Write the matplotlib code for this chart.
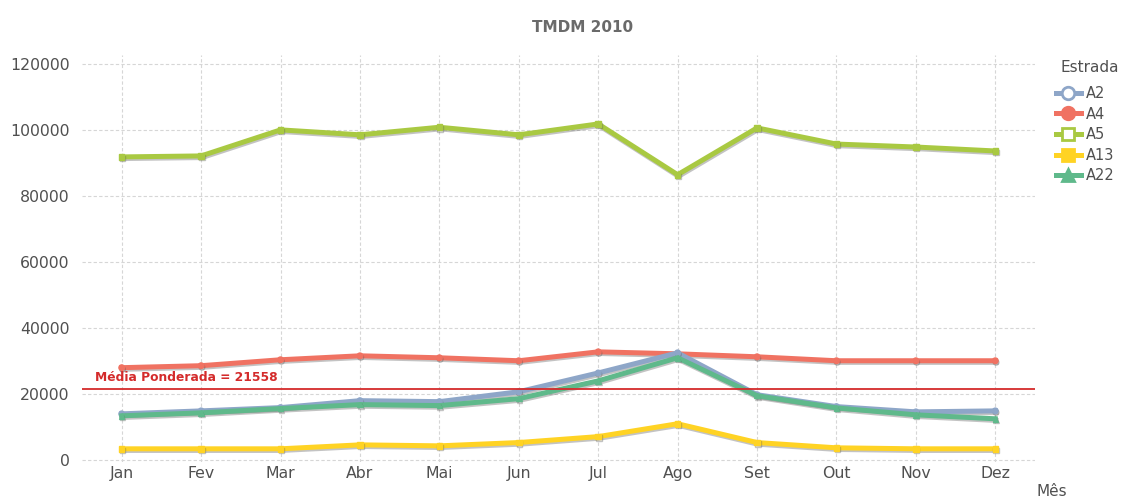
import matplotlib
matplotlib.use("Agg")
import matplotlib.pyplot as plt
import matplotlib.patheffects as pe
from matplotlib.lines import Line2D

months = ["Jan", "Fev", "Mar", "Abr", "Mai", "Jun", "Jul", "Ago", "Set", "Out", "Nov", "Dez"]
a2 = [13900, 14800, 15800, 17900, 17600, 20600, 26300, 32400, 19700, 16100, 14500, 14800]
a4 = [27900, 28500, 30300, 31500, 30900, 30000, 32700, 32100, 31200, 30000, 30000, 30000]
a5 = [91800, 92100, 100000, 98500, 100800, 98500, 101800, 86400, 100600, 95700, 94800, 93600]
a13 = [3300, 3300, 3300, 4500, 4200, 5200, 7000, 10900, 5200, 3600, 3300, 3300]
a22 = [13300, 14200, 15500, 16700, 16400, 18500, 23900, 30900, 19400, 15700, 13600, 12400]
media = 21558
yticks = [0, 20000, 40000, 60000, 80000, 100000, 120000]

plt.rcParams['font.family'] = ['DejaVu Sans']
fig = plt.figure(figsize=(11.23, 5.0), dpi=100)
ax = fig.add_axes([82/1123, 1-462/500, (1035-82)/1123, (462-55)/500])

x = list(range(len(months)))
shadow = [pe.SimpleLineShadow(offset=(0.6, -1.2), shadow_color='#555555', alpha=0.35), pe.Normal()]

series = [
    ("A4", a4, "#f07262", "o", True),
    ("A2", a2, "#8ea6c8", "o", False),
    ("A22", a22, "#5fb98b", "^", True),
    ("A13", a13, "#ffd324", "s", True),
    ("A5", a5, "#a9c942", "s", False),
]
for name, vals, col, mk, filled in series:
    ax.plot(x, vals, color=col, lw=3.6, marker=mk, ms=4,
            mfc=col, mec=col, mew=1.0,
            solid_joinstyle='round', path_effects=shadow, zorder=3)

ax.axhline(media, color='#d42b2b', lw=1.3, zorder=4)
ax.text(-0.34, media + 1500, "Média Ponderada = 21558", color='#d42b2b',
        fontsize=8.8, fontweight='bold', ha='left', va='bottom', zorder=5)

ax.set_xlim(-0.5, 11.5)
ax.set_ylim(-700, 122700)
ax.set_xticks(x)
ax.set_xticklabels(months)
ax.set_yticks(yticks)
ax.set_yticklabels([str(v) for v in yticks])
ax.tick_params(axis='both', length=0, labelsize=11.3, labelcolor='#505050')
ax.tick_params(axis='y', pad=9)
ax.tick_params(axis='x', pad=3)
ax.grid(True, color='#d6d6d6', ls=(0, (3, 2)), lw=0.8)
ax.set_axisbelow(True)
for s in ax.spines.values():
    s.set_visible(False)

fig.text(583/1123, 1-27/500, "TMDM 2010", ha='center', va='center',
         fontsize=11, fontweight='bold', color='#6a6a6a')
fig.text(1037/1123, 1-492/500, "Mês", ha='left', va='center', fontsize=11, color='#505050')
fig.text(1060/1123, 1-67/500, "Estrada", ha='left', va='center', fontsize=11, color='#505050')

order = [("A2", "#8ea6c8", "o", False), ("A4", "#f07262", "o", True),
         ("A5", "#a9c942", "s", False), ("A13", "#ffd324", "s", True),
         ("A22", "#5fb98b", "^", True)]
handles = [Line2D([0], [0], color=c, lw=3.6, marker=m, ms=9, mfc=c if f else 'white',
                  mec=c, mew=2.0) for _, c, m, f in order]
leg = fig.legend(handles, [o[0] for o in order], loc='upper left',
                 bbox_to_anchor=(1056/1123, 1-86/500), frameon=False, fontsize=10.5,
                 handlelength=1.7, handletextpad=0.35,
                 labelspacing=0.38, borderaxespad=0, borderpad=0)
for t in leg.get_texts():
    t.set_color('#505050')

fig.savefig("out.png", dpi=100)
